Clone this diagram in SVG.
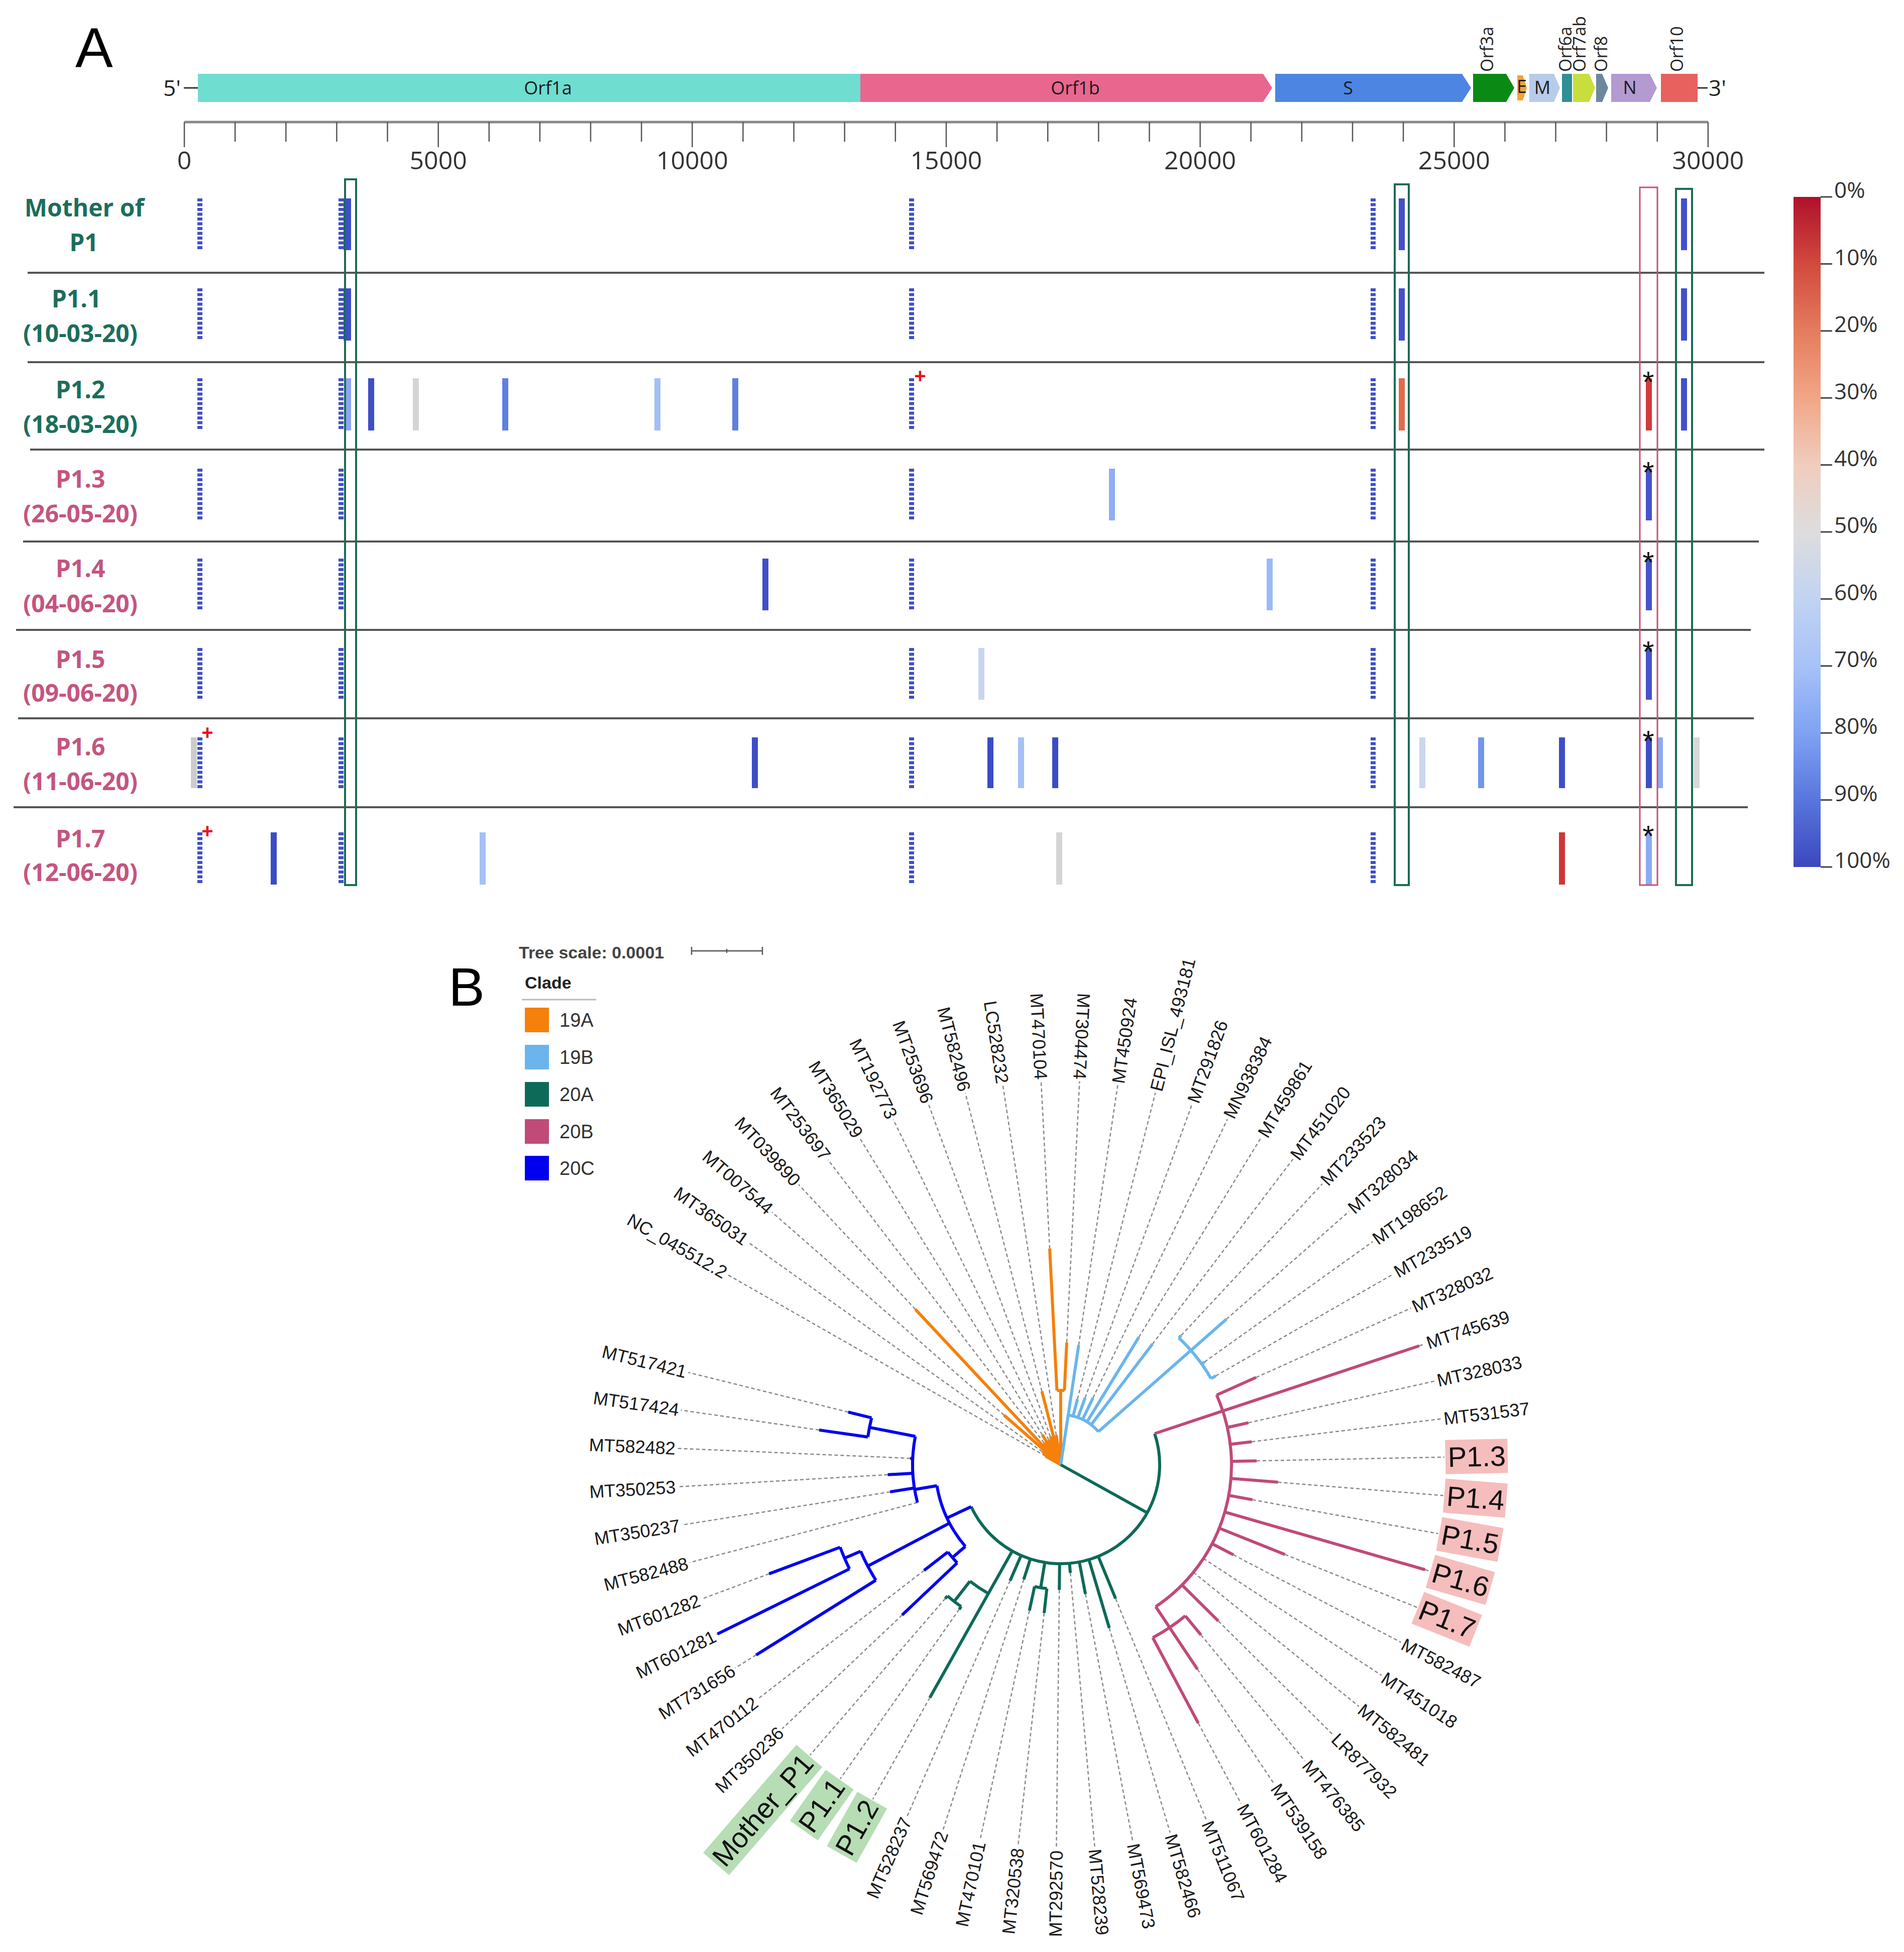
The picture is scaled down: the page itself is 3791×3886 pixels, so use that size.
<svg xmlns="http://www.w3.org/2000/svg" width="3791" height="3886" viewBox="0 0 3791 3886">
<style>
.os{font-family:"Open Sans","Liberation Sans",sans-serif}
.ls{font-family:"Liberation Sans",Arial,sans-serif}
.rowg{font-family:"Open Sans","Liberation Sans",sans-serif;font-weight:bold;font-size:48px;fill:#1C6E5B;text-anchor:middle}
.rowp{font-family:"Open Sans","Liberation Sans",sans-serif;font-weight:bold;font-size:48px;fill:#C4557F;text-anchor:middle}
.sep{stroke:#555;stroke-width:4}
.dot{stroke:#3F4FC6;stroke-width:10;stroke-dasharray:6 3.5}
.tick{stroke:#555;stroke-width:2.5}
.ast{font-family:"Liberation Sans",Arial,sans-serif;font-size:60px;fill:#111;text-anchor:middle}
.plus{font-family:"Liberation Sans",Arial,sans-serif;font-size:40px;font-weight:bold;fill:#E8141C;text-anchor:middle}
.pct{font-family:"Open Sans","Liberation Sans",sans-serif;font-size:44px;fill:#333}
.gl{font-family:"Open Sans","Liberation Sans",sans-serif;font-size:36px;fill:#1a1a1a;text-anchor:middle}
.lbl{font-family:"Liberation Sans",Arial,sans-serif;font-size:36px;fill:#1a1a1a}
.big{font-family:"Liberation Sans",Arial,sans-serif;font-size:56px;fill:#111}
.dash{stroke:#8a8a8a;stroke-width:2.5;stroke-dasharray:7 5}
.pbox{fill:#F6BDBD}
.gbox{fill:#B7DDB5}
</style>
<defs>
<linearGradient id="cs" x1="0" y1="0" x2="0" y2="1">
<stop offset="0" stop-color="#B0112B"/>
<stop offset="0.1" stop-color="#D14A3E"/>
<stop offset="0.2" stop-color="#E47C5D"/>
<stop offset="0.3" stop-color="#F2A686"/>
<stop offset="0.4" stop-color="#EFCDBE"/>
<stop offset="0.5" stop-color="#DDDDDD"/>
<stop offset="0.6" stop-color="#C2D3F2"/>
<stop offset="0.7" stop-color="#A6C2F7"/>
<stop offset="0.8" stop-color="#7FA2F3"/>
<stop offset="0.9" stop-color="#5876DC"/>
<stop offset="1" stop-color="#3B48BD"/>
</linearGradient>
</defs>
<rect width="3791" height="3886" fill="#fff"/>

<!-- PANEL A -->
<text x="150" y="133" class="ls" font-size="112" fill="#000">A</text>

<g id="genome">
<text x="325" y="191" class="os" font-size="44" fill="#222">5'</text>
<line x1="366" y1="175" x2="394" y2="175" stroke="#333" stroke-width="3"/>
<rect x="394" y="147" width="1319" height="56" fill="#6FDDD0"/>
<polygon points="1713,147 2515,147 2533,175 2515,203 1713,203" fill="#E9668F"/>
<polygon points="2539,147 2911,147 2929,175 2911,203 2539,203" fill="#4C86E2"/>
<polygon points="2933,147 2999,147 3015,175 2999,203 2933,203" fill="#0A8A14"/>
<polygon points="3021,150 3032,150 3040,175 3032,200 3021,200" fill="#F2A33A"/>
<polygon points="3045,147 3094,147 3106,175 3094,203 3045,203" fill="#B7CBEA"/>
<rect x="3110" y="147" width="20" height="56" fill="#2F8E96"/>
<polygon points="3132,147 3164,147 3176,175 3164,203 3132,203" fill="#C8DE3C"/>
<polygon points="3178,147 3190,147 3202,175 3190,203 3178,203" fill="#6C879E"/>
<polygon points="3208,147 3285,147 3299,175 3285,203 3208,203" fill="#B39BD2"/>
<rect x="3307" y="147" width="73" height="56" fill="#E8615F"/>
<line x1="3380" y1="175" x2="3400" y2="175" stroke="#333" stroke-width="3"/>
<text x="3402" y="191" class="os" font-size="44" fill="#222">3'</text>
<text x="1091" y="188" class="gl">Orf1a</text>
<text x="2141" y="188" class="gl">Orf1b</text>
<text x="2684" y="188" class="gl">S</text>
<text x="3030" y="185" class="gl" font-size="26">E</text>
<text x="3071" y="187" class="gl" font-size="32">M</text>
<text x="3245" y="187" class="gl" font-size="32">N</text>
<g class="os" font-size="34" fill="#222">
<text transform="translate(2973,143) rotate(-90)">Orf3a</text>
<text transform="translate(3129,143) rotate(-90)">Orf6a</text>
<text transform="translate(3157,143) rotate(-90)">Orf7ab</text>
<text transform="translate(3200,143) rotate(-90)">Orf8</text>
<text transform="translate(3351,143) rotate(-90)">Orf10</text>
</g>
</g>

<g id="axis">
<line x1="367" y1="243" x2="3401" y2="243" stroke="#888" stroke-width="5"/>
<g class="tick">
<line x1="367" y1="243" x2="367" y2="293"/><line x1="468.1" y1="243" x2="468.1" y2="282"/><line x1="569.3" y1="243" x2="569.3" y2="282"/><line x1="670.4" y1="243" x2="670.4" y2="282"/><line x1="771.5" y1="243" x2="771.5" y2="282"/>
<line x1="872.7" y1="243" x2="872.7" y2="293"/><line x1="973.8" y1="243" x2="973.8" y2="282"/><line x1="1074.9" y1="243" x2="1074.9" y2="282"/><line x1="1176" y1="243" x2="1176" y2="282"/><line x1="1277.2" y1="243" x2="1277.2" y2="282"/>
<line x1="1378.3" y1="243" x2="1378.3" y2="293"/><line x1="1479.4" y1="243" x2="1479.4" y2="282"/><line x1="1580.6" y1="243" x2="1580.6" y2="282"/><line x1="1681.7" y1="243" x2="1681.7" y2="282"/><line x1="1782.8" y1="243" x2="1782.8" y2="282"/>
<line x1="1884" y1="243" x2="1884" y2="293"/><line x1="1985.1" y1="243" x2="1985.1" y2="282"/><line x1="2086.2" y1="243" x2="2086.2" y2="282"/><line x1="2187.3" y1="243" x2="2187.3" y2="282"/><line x1="2288.5" y1="243" x2="2288.5" y2="282"/>
<line x1="2389.6" y1="243" x2="2389.6" y2="293"/><line x1="2490.7" y1="243" x2="2490.7" y2="282"/><line x1="2591.9" y1="243" x2="2591.9" y2="282"/><line x1="2693" y1="243" x2="2693" y2="282"/><line x1="2794.1" y1="243" x2="2794.1" y2="282"/>
<line x1="2895.3" y1="243" x2="2895.3" y2="293"/><line x1="2996.4" y1="243" x2="2996.4" y2="282"/><line x1="3097.5" y1="243" x2="3097.5" y2="282"/><line x1="3198.6" y1="243" x2="3198.6" y2="282"/><line x1="3299.8" y1="243" x2="3299.8" y2="282"/>
<line x1="3400.9" y1="243" x2="3400.9" y2="293"/>
</g>
<g class="os" font-size="50" fill="#333" text-anchor="middle">
<text x="367" y="337">0</text><text x="872.7" y="337">5000</text><text x="1378.3" y="337">10000</text><text x="1884" y="337">15000</text><text x="2389.6" y="337">20000</text><text x="2895.3" y="337">25000</text><text x="3400.9" y="337">30000</text>
</g>
</g>

<g id="row-separators">
<line class="sep" x1="55" y1="543" x2="3513" y2="543"/>
<line class="sep" x1="55" y1="721" x2="3513" y2="721"/>
<line class="sep" x1="60" y1="895" x2="3513" y2="895"/>
<line class="sep" x1="46" y1="1078" x2="3502" y2="1078"/>
<line class="sep" x1="32" y1="1254" x2="3486" y2="1254"/>
<line class="sep" x1="36" y1="1430" x2="3492" y2="1430"/>
<line class="sep" x1="27" y1="1607" x2="3480" y2="1607"/>
</g>

<g id="row-mother">
<text x="168" y="431" class="rowg">Mother of</text><text x="167" y="500" class="rowg">P1</text>
<line class="dot" x1="398" y1="395" x2="398" y2="498"/>
<line class="dot" x1="679" y1="395" x2="679" y2="498"/>
<rect x="684" y="395" width="15" height="103" fill="#3E4FC7"/>
<line class="dot" x1="1815" y1="395" x2="1815" y2="498"/>
<line class="dot" x1="2734" y1="395" x2="2734" y2="498" stroke-width="12"/>
<rect x="2785" y="395" width="12" height="103" fill="#4350C9"/>
<rect x="3347" y="395" width="12" height="103" fill="#4350C9"/>
</g>

<g id="row-p1-1">
<text x="152" y="612" class="rowg">P1.1</text><text x="160" y="681" class="rowg">(10-03-20)</text>
<line class="dot" x1="398" y1="574" x2="398" y2="678"/>
<line class="dot" x1="679" y1="574" x2="679" y2="678"/>
<rect x="684" y="574" width="15" height="104" fill="#3E4FC7"/>
<line class="dot" x1="1815" y1="574" x2="1815" y2="678"/>
<line class="dot" x1="2734" y1="574" x2="2734" y2="678" stroke-width="12"/>
<rect x="2785" y="574" width="12" height="104" fill="#4350C9"/>
<rect x="3347" y="574" width="12" height="104" fill="#4350C9"/>
</g>

<g id="row-p1-2">
<text x="160" y="793" class="rowg">P1.2</text><text x="160" y="862" class="rowg">(18-03-20)</text>
<line class="dot" x1="398" y1="753" x2="398" y2="857"/>
<line class="dot" x1="679" y1="753" x2="679" y2="857"/>
<rect x="686" y="753" width="13" height="104" fill="#8DA6F0"/>
<rect x="733" y="753" width="12" height="104" fill="#3D4FC9"/>
<rect x="822" y="753" width="12" height="104" fill="#D5D5D5"/>
<rect x="1000" y="753" width="12" height="104" fill="#5F80E2"/>
<rect x="1303" y="753" width="12" height="104" fill="#A3BFF5"/>
<rect x="1458" y="753" width="12" height="104" fill="#6080E0"/>
<line class="dot" x1="1815" y1="753" x2="1815" y2="857"/>
<text x="1832" y="762" class="plus">+</text>
<line class="dot" x1="2734" y1="753" x2="2734" y2="857" stroke-width="12"/>
<rect x="2785" y="753" width="12" height="104" fill="#E06C4C"/>
<rect x="3277" y="753" width="12" height="104" fill="#D23A3A"/>
<text x="3282" y="781" class="ast">*</text>
<rect x="3347" y="753" width="12" height="104" fill="#4350C9"/>
</g>

<g id="row-p1-3">
<text x="160" y="971" class="rowp">P1.3</text><text x="160" y="1040" class="rowp">(26-05-20)</text>
<line class="dot" x1="398" y1="933" x2="398" y2="1036"/>
<line class="dot" x1="679" y1="933" x2="679" y2="1036"/>
<line class="dot" x1="1815" y1="933" x2="1815" y2="1036"/>
<rect x="2208" y="933" width="12" height="103" fill="#8FAEF3"/>
<line class="dot" x1="2734" y1="933" x2="2734" y2="1036" stroke-width="12"/>
<rect x="3277" y="933" width="12" height="103" fill="#4554CB"/>
<text x="3282" y="961" class="ast">*</text>
</g>

<g id="row-p1-4">
<text x="160" y="1149" class="rowp">P1.4</text><text x="160" y="1219" class="rowp">(04-06-20)</text>
<line class="dot" x1="398" y1="1112" x2="398" y2="1215"/>
<line class="dot" x1="679" y1="1112" x2="679" y2="1215"/>
<rect x="1518" y="1112" width="12" height="103" fill="#3F4FC8"/>
<line class="dot" x1="1815" y1="1112" x2="1815" y2="1215"/>
<rect x="2522" y="1112" width="12" height="103" fill="#9BB9F5"/>
<line class="dot" x1="2734" y1="1112" x2="2734" y2="1215" stroke-width="12"/>
<rect x="3277" y="1112" width="12" height="103" fill="#4554CB"/>
<text x="3282" y="1140" class="ast">*</text>
</g>

<g id="row-p1-5">
<text x="160" y="1330" class="rowp">P1.5</text><text x="160" y="1397" class="rowp">(09-06-20)</text>
<line class="dot" x1="398" y1="1290" x2="398" y2="1393"/>
<line class="dot" x1="679" y1="1290" x2="679" y2="1393"/>
<line class="dot" x1="1815" y1="1290" x2="1815" y2="1393"/>
<rect x="1948" y="1290" width="12" height="103" fill="#C8D5EE"/>
<line class="dot" x1="2734" y1="1290" x2="2734" y2="1393" stroke-width="12"/>
<rect x="3277" y="1290" width="12" height="103" fill="#4554CB"/>
<text x="3282" y="1318" class="ast">*</text>
</g>

<g id="row-p1-6">
<text x="160" y="1504" class="rowp">P1.6</text><text x="160" y="1573" class="rowp">(11-06-20)</text>
<rect x="380" y="1468" width="12" height="101" fill="#CCCCCC"/>
<line class="dot" x1="398" y1="1468" x2="398" y2="1569"/>
<text x="413" y="1472" class="plus">+</text>
<line class="dot" x1="679" y1="1468" x2="679" y2="1569"/>
<rect x="1497" y="1468" width="12" height="101" fill="#3E4EC8"/>
<line class="dot" x1="1815" y1="1468" x2="1815" y2="1569"/>
<rect x="1966" y="1468" width="12" height="101" fill="#3A4CC6"/>
<rect x="2027" y="1468" width="12" height="101" fill="#A5C1F5"/>
<rect x="2095" y="1468" width="12" height="101" fill="#3A4CC6"/>
<line class="dot" x1="2734" y1="1468" x2="2734" y2="1569" stroke-width="12"/>
<rect x="2826" y="1468" width="12" height="101" fill="#C9D6EE"/>
<rect x="2943" y="1468" width="12" height="101" fill="#7096EE"/>
<rect x="3104" y="1468" width="12" height="101" fill="#3E4EC8"/>
<rect x="3277" y="1468" width="12" height="101" fill="#3E4EC8"/>
<rect x="3299" y="1468" width="12" height="101" fill="#8CAAF2"/>
<text x="3282" y="1496" class="ast">*</text>
<rect x="3372" y="1468" width="12" height="101" fill="#D8D8D8"/>
</g>

<g id="row-p1-7">
<text x="160" y="1687" class="rowp">P1.7</text><text x="160" y="1754" class="rowp">(12-06-20)</text>
<line class="dot" x1="398" y1="1657" x2="398" y2="1761"/>
<text x="413" y="1668" class="plus">+</text>
<rect x="539" y="1657" width="12" height="104" fill="#3A4CC6"/>
<line class="dot" x1="679" y1="1657" x2="679" y2="1761"/>
<rect x="955" y="1657" width="12" height="104" fill="#A5C1F5"/>
<line class="dot" x1="1815" y1="1657" x2="1815" y2="1761"/>
<rect x="2103" y="1657" width="12" height="104" fill="#D5D5D5"/>
<line class="dot" x1="2734" y1="1657" x2="2734" y2="1761" stroke-width="12"/>
<rect x="3104" y="1657" width="12" height="104" fill="#D03535"/>
<rect x="3277" y="1657" width="12" height="104" fill="#8CAAF2"/>
<text x="3282" y="1685" class="ast">*</text>
</g>

<g id="highlight-boxes" fill="none">
<rect x="687" y="357" width="22" height="1405" stroke="#1B6B57" stroke-width="4"/>
<rect x="2777" y="367" width="28" height="1395" stroke="#1B6B57" stroke-width="4"/>
<rect x="3265" y="373" width="35" height="1389" stroke="#C8507A" stroke-width="3"/>
<rect x="3337" y="376" width="32" height="1386" stroke="#1B6B57" stroke-width="4"/>
</g>

<g id="color-scale">
<rect x="3571" y="392" width="54" height="1334" fill="url(#cs)"/>
<g stroke="#444" stroke-width="3">
<line x1="3625" y1="392" x2="3648" y2="392"/><line x1="3625" y1="525.4" x2="3648" y2="525.4"/><line x1="3625" y1="658.8" x2="3648" y2="658.8"/><line x1="3625" y1="792.2" x2="3648" y2="792.2"/><line x1="3625" y1="925.6" x2="3648" y2="925.6"/><line x1="3625" y1="1059" x2="3648" y2="1059"/><line x1="3625" y1="1192.4" x2="3648" y2="1192.4"/><line x1="3625" y1="1325.8" x2="3648" y2="1325.8"/><line x1="3625" y1="1459.2" x2="3648" y2="1459.2"/><line x1="3625" y1="1592.6" x2="3648" y2="1592.6"/><line x1="3625" y1="1726" x2="3648" y2="1726"/>
</g>
<text x="3652" y="394" class="pct">0%</text>
<text x="3652" y="528" class="pct">10%</text>
<text x="3652" y="661" class="pct">20%</text>
<text x="3652" y="795" class="pct">30%</text>
<text x="3652" y="928" class="pct">40%</text>
<text x="3652" y="1061" class="pct">50%</text>
<text x="3652" y="1195" class="pct">60%</text>
<text x="3652" y="1328" class="pct">70%</text>
<text x="3652" y="1461" class="pct">80%</text>
<text x="3652" y="1595" class="pct">90%</text>
<text x="3652" y="1728" class="pct">100%</text>
</g>

<!-- PANEL B -->
<text x="893" y="2002" class="ls" font-size="108" fill="#000">B</text>
<g id="tree-scale">
<text x="1033" y="1908" class="ls" font-size="34" font-weight="bold" fill="#444">Tree scale: 0.0001</text>
<g stroke="#555" stroke-width="2.5">
<line x1="1377" y1="1893" x2="1518" y2="1893"/><line x1="1377" y1="1885" x2="1377" y2="1901"/><line x1="1518" y1="1885" x2="1518" y2="1901"/><line x1="1447" y1="1889" x2="1447" y2="1897"/>
</g>
</g>
<g id="legend">
<text x="1045" y="1968" class="ls" font-size="34" font-weight="bold" fill="#222">Clade</text>
<line x1="1039" y1="1990" x2="1187" y2="1990" stroke="#bbb" stroke-width="3"/>
<rect x="1045" y="2006" width="48" height="49" fill="#F5800A"/><text x="1114" y="2044" class="ls" font-size="38" fill="#333">19A</text>
<rect x="1045" y="2080" width="48" height="49" fill="#6BB5EC"/><text x="1114" y="2118" class="ls" font-size="38" fill="#333">19B</text>
<rect x="1045" y="2154" width="48" height="49" fill="#0E6A58"/><text x="1114" y="2192" class="ls" font-size="38" fill="#333">20A</text>
<rect x="1045" y="2228" width="48" height="49" fill="#C04A78"/><text x="1114" y="2266" class="ls" font-size="38" fill="#333">20B</text>
<rect x="1045" y="2301" width="48" height="49" fill="#0000EE"/><text x="1114" y="2339" class="ls" font-size="38" fill="#333">20C</text>
</g>

<g id="tree" transform="translate(2112,2916)">
<g id="connectors">
<line class="dash" x1="35" x2="764" transform="rotate(209.70)"/>
<line class="dash" x1="45" x2="764" transform="rotate(215.44)"/>
<line class="dash" x1="150" x2="764" transform="rotate(221.17)"/>
<line class="dash" x1="424" x2="764" transform="rotate(226.91)"/>
<line class="dash" x1="55" x2="764" transform="rotate(232.65)"/>
<line class="dash" x1="70" x2="764" transform="rotate(238.39)"/>
<line class="dash" x1="55" x2="764" transform="rotate(244.12)"/>
<line class="dash" x1="60" x2="764" transform="rotate(249.86)"/>
<line class="dash" x1="151" x2="764" transform="rotate(255.60)"/>
<line class="dash" x1="60" x2="764" transform="rotate(261.33)"/>
<line class="dash" x1="431" x2="764" transform="rotate(267.07)"/>
<line class="dash" x1="244" x2="764" transform="rotate(272.81)"/>
<line class="dash" x1="241" x2="764" transform="rotate(278.54)"/>
<line class="dash" x1="135" x2="764" transform="rotate(284.28)"/>
<line class="dash" x1="142" x2="764" transform="rotate(290.02)"/>
<line class="dash" x1="148" x2="764" transform="rotate(295.76)"/>
<line class="dash" x1="298" x2="764" transform="rotate(301.49)"/>
<line class="dash" x1="302" x2="764" transform="rotate(307.23)"/>
<line class="dash" x1="352" x2="764" transform="rotate(312.97)"/>
<line class="dash" x1="439" x2="764" transform="rotate(318.70)"/>
<line class="dash" x1="352" x2="764" transform="rotate(324.44)"/>
<line class="dash" x1="356" x2="764" transform="rotate(330.18)"/>
<line class="dash" x1="426" x2="764" transform="rotate(335.91)"/>
<line class="dash" x1="752" x2="764" transform="rotate(341.65)"/>
<line class="dash" x1="383" x2="764" transform="rotate(347.39)"/>
<line class="dash" x1="383" x2="764" transform="rotate(353.13)"/>
<line class="dash" x1="390" x2="764" transform="rotate(358.86)"/>
<line class="dash" x1="434" x2="764" transform="rotate(4.60)"/>
<line class="dash" x1="388" x2="764" transform="rotate(10.34)"/>
<line class="dash" x1="755" x2="764" transform="rotate(16.07)"/>
<line class="dash" x1="481" x2="764" transform="rotate(21.81)"/>
<line class="dash" x1="388" x2="764" transform="rotate(27.55)"/>
<line class="dash" x1="340" x2="764" transform="rotate(33.28)"/>
<line class="dash" x1="340" x2="764" transform="rotate(39.02)"/>
<line class="dash" x1="442" x2="764" transform="rotate(44.76)"/>
<line class="dash" x1="439" x2="764" transform="rotate(50.50)"/>
<line class="dash" x1="490" x2="764" transform="rotate(56.23)"/>
<line class="dash" x1="583" x2="764" transform="rotate(61.97)"/>
<line class="dash" x1="288" x2="764" transform="rotate(67.71)"/>
<line class="dash" x1="339" x2="764" transform="rotate(73.44)"/>
<line class="dash" x1="262" x2="764" transform="rotate(79.18)"/>
<line class="dash" x1="216" x2="764" transform="rotate(84.92)"/>
<line class="dash" x1="249" x2="764" transform="rotate(90.65)"/>
<line class="dash" x1="297" x2="764" transform="rotate(96.39)"/>
<line class="dash" x1="297" x2="764" transform="rotate(102.13)"/>
<line class="dash" x1="240" x2="764" transform="rotate(107.87)"/>
<line class="dash" x1="252" x2="764" transform="rotate(113.60)"/>
<line class="dash" x1="532" x2="764" transform="rotate(119.34)"/>
<line class="dash" x1="352" x2="764" transform="rotate(125.08)"/>
<line class="dash" x1="352" x2="764" transform="rotate(130.81)"/>
<line class="dash" x1="435" x2="764" transform="rotate(136.55)"/>
<line class="dash" x1="344" x2="764" transform="rotate(142.29)"/>
<line class="dash" x1="715" x2="764" transform="rotate(148.02)"/>
<line class="dash" x1="762" x2="764" transform="rotate(153.76)"/>
<line class="dash" x1="620" x2="764" transform="rotate(159.50)"/>
<line class="dash" x1="295" x2="764" transform="rotate(165.24)"/>
<line class="dash" x1="344" x2="764" transform="rotate(170.97)"/>
<line class="dash" x1="345" x2="764" transform="rotate(176.71)"/>
<line class="dash" x1="300" x2="764" transform="rotate(182.45)"/>
<line class="dash" x1="486" x2="764" transform="rotate(188.18)"/>
<line class="dash" x1="436" x2="764" transform="rotate(193.92)"/>
</g>

<g id="branches" fill="none" stroke-width="6">
<g id="clade-19A" stroke="#F5800A">
<line x2="35" transform="rotate(209.70)"/>
<line x2="45" transform="rotate(215.44)"/>
<line x2="150" transform="rotate(221.17)"/>
<line x2="424" transform="rotate(226.91)"/>
<line x2="55" transform="rotate(232.65)"/>
<line x2="70" transform="rotate(238.39)"/>
<line x2="55" transform="rotate(244.12)"/>
<line x2="60" transform="rotate(249.86)"/>
<line x2="151" transform="rotate(255.60)"/>
<line x2="60" transform="rotate(261.33)"/>
<line x2="148" transform="rotate(269.94)"/>
<circle r="148" stroke-dasharray="14.83 5000" transform="rotate(267.07)"/>
<line x1="148" x2="431" transform="rotate(267.07)"/>
<line x1="148" x2="244" transform="rotate(272.81)"/>
</g>
<g id="clade-19B" stroke="#6BB5EC">
<circle r="100" stroke-dasharray="70.09 5000" transform="rotate(278.54)"/>
<line x2="241" transform="rotate(278.54)"/>
<line x1="100" x2="135" transform="rotate(284.28)"/>
<line x1="100" x2="142" transform="rotate(290.02)"/>
<line x1="100" x2="148" transform="rotate(295.76)"/>
<line x1="100" x2="298" transform="rotate(301.49)"/>
<line x1="100" x2="302" transform="rotate(307.23)"/>
<line x1="100" x2="345" transform="rotate(318.70)"/>
<circle r="345" stroke-dasharray="103.63 5000" transform="rotate(312.97)"/>
<line x1="345" x2="352" transform="rotate(312.97)"/>
<line x1="345" x2="439" transform="rotate(318.70)"/>
<line x1="345" x2="352" transform="rotate(324.44)"/>
<line x1="345" x2="356" transform="rotate(330.18)"/>
</g>
<g id="clade-20A" stroke="#0E6A58">
<line x2="197" transform="rotate(29)"/>
<circle r="197" stroke-dasharray="595.7 5000" transform="rotate(341.65)"/>
<line x1="197" x2="288" transform="rotate(67.71)"/>
<line x1="197" x2="339" transform="rotate(73.44)"/>
<line x1="197" x2="262" transform="rotate(79.18)"/>
<line x1="197" x2="216" transform="rotate(84.92)"/>
<line x1="197" x2="249" transform="rotate(90.65)"/>
<line x1="197" x2="248" transform="rotate(99.26)"/>
<circle r="248" stroke-dasharray="24.85 5000" transform="rotate(96.39)"/>
<line x1="248" x2="297" transform="rotate(96.39)"/>
<line x1="248" x2="297" transform="rotate(102.13)"/>
<line x1="197" x2="240" transform="rotate(107.87)"/>
<line x1="197" x2="252" transform="rotate(113.60)"/>
<line x1="197" x2="532" transform="rotate(119.34)"/>
<circle r="294" stroke-dasharray="44.18 5000" transform="rotate(119.34)"/>
<line x1="294" x2="345" transform="rotate(127.95)"/>
<circle r="345" stroke-dasharray="34.50 5000" transform="rotate(125.08)"/>
<line x1="345" x2="352" transform="rotate(125.08)"/>
<line x1="345" x2="352" transform="rotate(130.81)"/>
</g>
<g id="clade-20B" stroke="#C04A78">
<line x1="197" x2="340" transform="rotate(341.65)"/>
<circle r="340" stroke-dasharray="476.45 5000" transform="rotate(335.91)"/>
<line x1="340" x2="426" transform="rotate(335.91)"/>
<line x1="340" x2="752" transform="rotate(341.65)"/>
<line x1="340" x2="383" transform="rotate(347.39)"/>
<line x1="340" x2="383" transform="rotate(353.13)"/>
<line x1="340" x2="390" transform="rotate(358.86)"/>
<line x1="340" x2="434" transform="rotate(4.60)"/>
<line x1="340" x2="388" transform="rotate(10.34)"/>
<line x1="340" x2="755" transform="rotate(16.07)"/>
<line x1="340" x2="481" transform="rotate(21.81)"/>
<line x1="340" x2="388" transform="rotate(27.55)"/>
<line x1="340" x2="442" transform="rotate(44.76)"/>
<line x1="340" x2="390" transform="rotate(56.2)"/>
<circle r="390" stroke-dasharray="78.07 5000" transform="rotate(50.50)"/>
<line x1="390" x2="439" transform="rotate(50.50)"/>
<line x1="390" x2="490" transform="rotate(56.23)"/>
<line x1="390" x2="583" transform="rotate(61.97)"/>
</g>
<g id="clade-20C" stroke="#0000EE">
<line x1="197" x2="250" transform="rotate(154.9)"/>
<circle r="250" stroke-dasharray="135.17 5000" transform="rotate(139.42)"/>
<line x1="250" x2="284" transform="rotate(139.42)"/>
<circle r="284" stroke-dasharray="28.45 5000" transform="rotate(136.55)"/>
<line x1="284" x2="435" transform="rotate(136.55)"/>
<line x1="284" x2="344" transform="rotate(142.29)"/>
<line x1="250" x2="434" transform="rotate(152.3)"/>
<circle r="434" stroke-dasharray="65.22 5000" transform="rotate(148.02)"/>
<line x1="434" x2="715" transform="rotate(148.02)"/>
<line x1="434" x2="469" transform="rotate(156.63)"/>
<circle r="469" stroke-dasharray="46.99 5000" transform="rotate(153.76)"/>
<line x1="469" x2="762" transform="rotate(153.76)"/>
<line x1="469" x2="620" transform="rotate(159.50)"/>
<line x1="250" x2="295" transform="rotate(170.4)"/>
<circle r="295" stroke-dasharray="132.89 5000" transform="rotate(165.24)"/>
<line x1="295" x2="344" transform="rotate(170.97)"/>
<line x1="295" x2="345" transform="rotate(176.71)"/>
<line x1="295" x2="300" transform="rotate(182.45)"/>
<line x1="295" x2="388" transform="rotate(191.05)"/>
<circle r="388" stroke-dasharray="38.87 5000" transform="rotate(188.18)"/>
<line x1="388" x2="486" transform="rotate(188.18)"/>
<line x1="388" x2="436" transform="rotate(193.92)"/>
</g>
</g>

<g id="leaf-labels">
<g text-anchor="end">
<text class="lbl" dy="0.35em" transform="rotate(209.70) translate(768,0) rotate(180)">NC_045512.2</text>
<text class="lbl" dy="0.35em" transform="rotate(215.44) translate(768,0) rotate(180)">MT365031</text>
<text class="lbl" dy="0.35em" transform="rotate(221.17) translate(768,0) rotate(180)">MT007544</text>
<text class="lbl" dy="0.35em" transform="rotate(226.91) translate(768,0) rotate(180)">MT039890</text>
<text class="lbl" dy="0.35em" transform="rotate(232.65) translate(768,0) rotate(180)">MT253697</text>
<text class="lbl" dy="0.35em" transform="rotate(238.39) translate(768,0) rotate(180)">MT365029</text>
<text class="lbl" dy="0.35em" transform="rotate(244.12) translate(768,0) rotate(180)">MT192773</text>
<text class="lbl" dy="0.35em" transform="rotate(249.86) translate(768,0) rotate(180)">MT253696</text>
<text class="lbl" dy="0.35em" transform="rotate(255.60) translate(768,0) rotate(180)">MT582496</text>
<text class="lbl" dy="0.35em" transform="rotate(261.33) translate(768,0) rotate(180)">LC528232</text>
<text class="lbl" dy="0.35em" transform="rotate(267.07) translate(768,0) rotate(180)">MT470104</text>
<text class="lbl" dy="0.35em" transform="rotate(272.81) translate(768,0) rotate(180)">MT304474</text>
<text class="lbl" dy="0.35em" transform="rotate(90.65) translate(768,0) rotate(180)">MT292570</text>
<text class="lbl" dy="0.35em" transform="rotate(96.39) translate(768,0) rotate(180)">MT320538</text>
<text class="lbl" dy="0.35em" transform="rotate(102.13) translate(768,0) rotate(180)">MT470101</text>
<text class="lbl" dy="0.35em" transform="rotate(107.87) translate(768,0) rotate(180)">MT569472</text>
<text class="lbl" dy="0.35em" transform="rotate(113.60) translate(768,0) rotate(180)">MT528237</text>
<text class="lbl" dy="0.35em" transform="rotate(136.55) translate(768,0) rotate(180)">MT350236</text>
<text class="lbl" dy="0.35em" transform="rotate(142.29) translate(768,0) rotate(180)">MT470112</text>
<text class="lbl" dy="0.35em" transform="rotate(148.02) translate(768,0) rotate(180)">MT731656</text>
<text class="lbl" dy="0.35em" transform="rotate(153.76) translate(768,0) rotate(180)">MT601281</text>
<text class="lbl" dy="0.35em" transform="rotate(159.50) translate(768,0) rotate(180)">MT601282</text>
<text class="lbl" dy="0.35em" transform="rotate(165.24) translate(768,0) rotate(180)">MT582488</text>
<text class="lbl" dy="0.35em" transform="rotate(170.97) translate(768,0) rotate(180)">MT350237</text>
<text class="lbl" dy="0.35em" transform="rotate(176.71) translate(768,0) rotate(180)">MT350253</text>
<text class="lbl" dy="0.35em" transform="rotate(182.45) translate(768,0) rotate(180)">MT582482</text>
<text class="lbl" dy="0.35em" transform="rotate(188.18) translate(768,0) rotate(180)">MT517424</text>
<text class="lbl" dy="0.35em" transform="rotate(193.92) translate(768,0) rotate(180)">MT517421</text>
</g>
<g>
<text class="lbl" dy="0.35em" transform="rotate(278.54) translate(768,0)">MT450924</text>
<text class="lbl" dy="0.35em" transform="rotate(284.28) translate(768,0)">EPI_ISL_493181</text>
<text class="lbl" dy="0.35em" transform="rotate(290.02) translate(768,0)">MT291826</text>
<text class="lbl" dy="0.35em" transform="rotate(295.76) translate(768,0)">MN938384</text>
<text class="lbl" dy="0.35em" transform="rotate(301.49) translate(768,0)">MT459861</text>
<text class="lbl" dy="0.35em" transform="rotate(307.23) translate(768,0)">MT451020</text>
<text class="lbl" dy="0.35em" transform="rotate(312.97) translate(768,0)">MT233523</text>
<text class="lbl" dy="0.35em" transform="rotate(318.70) translate(768,0)">MT328034</text>
<text class="lbl" dy="0.35em" transform="rotate(324.44) translate(768,0)">MT198652</text>
<text class="lbl" dy="0.35em" transform="rotate(330.18) translate(768,0)">MT233519</text>
<text class="lbl" dy="0.35em" transform="rotate(335.91) translate(768,0)">MT328032</text>
<text class="lbl" dy="0.35em" transform="rotate(341.65) translate(768,0)">MT745639</text>
<text class="lbl" dy="0.35em" transform="rotate(347.39) translate(768,0)">MT328033</text>
<text class="lbl" dy="0.35em" transform="rotate(353.13) translate(768,0)">MT531537</text>
<text class="lbl" dy="0.35em" transform="rotate(27.55) translate(768,0)">MT582487</text>
<text class="lbl" dy="0.35em" transform="rotate(33.28) translate(768,0)">MT451018</text>
<text class="lbl" dy="0.35em" transform="rotate(39.02) translate(768,0)">MT582481</text>
<text class="lbl" dy="0.35em" transform="rotate(44.76) translate(768,0)">LR877932</text>
<text class="lbl" dy="0.35em" transform="rotate(50.50) translate(768,0)">MT476385</text>
<text class="lbl" dy="0.35em" transform="rotate(56.23) translate(768,0)">MT539158</text>
<text class="lbl" dy="0.35em" transform="rotate(61.97) translate(768,0)">MT601284</text>
<text class="lbl" dy="0.35em" transform="rotate(67.71) translate(768,0)">MT511067</text>
<text class="lbl" dy="0.35em" transform="rotate(73.44) translate(768,0)">MT582466</text>
<text class="lbl" dy="0.35em" transform="rotate(79.18) translate(768,0)">MT569473</text>
<text class="lbl" dy="0.35em" transform="rotate(84.92) translate(768,0)">MT528239</text>
</g>
<g id="sample-P1-3" transform="rotate(358.86) translate(766,0)"><rect class="pbox" x="0" y="-34" width="124" height="68"/><text class="big" x="5" dy="0.35em">P1.3</text></g>
<g id="sample-P1-4" transform="rotate(4.60) translate(766,0)"><rect class="pbox" x="0" y="-34" width="124" height="68"/><text class="big" x="5" dy="0.35em">P1.4</text></g>
<g id="sample-P1-5" transform="rotate(10.34) translate(766,0)"><rect class="pbox" x="0" y="-34" width="124" height="68"/><text class="big" x="5" dy="0.35em">P1.5</text></g>
<g id="sample-P1-6" transform="rotate(16.07) translate(766,0)"><rect class="pbox" x="0" y="-34" width="124" height="68"/><text class="big" x="5" dy="0.35em">P1.6</text></g>
<g id="sample-P1-7" transform="rotate(21.81) translate(766,0)"><rect class="pbox" x="0" y="-34" width="124" height="68"/><text class="big" x="5" dy="0.35em">P1.7</text></g>
<g id="sample-P1-2" transform="rotate(119.34) translate(766,0) rotate(180)"><rect class="gbox" x="-124" y="-34" width="124" height="68"/><text class="big" x="-5" text-anchor="end" dy="0.35em">P1.2</text></g>
<g id="sample-P1-1" transform="rotate(125.08) translate(766,0) rotate(180)"><rect class="gbox" x="-124" y="-34" width="124" height="68"/><text class="big" x="-5" text-anchor="end" dy="0.35em">P1.1</text></g>
<g id="sample-Mother_P1" transform="rotate(130.81) translate(766,0) rotate(180)"><rect class="gbox" x="-284" y="-34" width="284" height="68"/><text class="big" x="-5" text-anchor="end" dy="0.35em">Mother_P1</text></g>
</g>
</g>
</svg>
